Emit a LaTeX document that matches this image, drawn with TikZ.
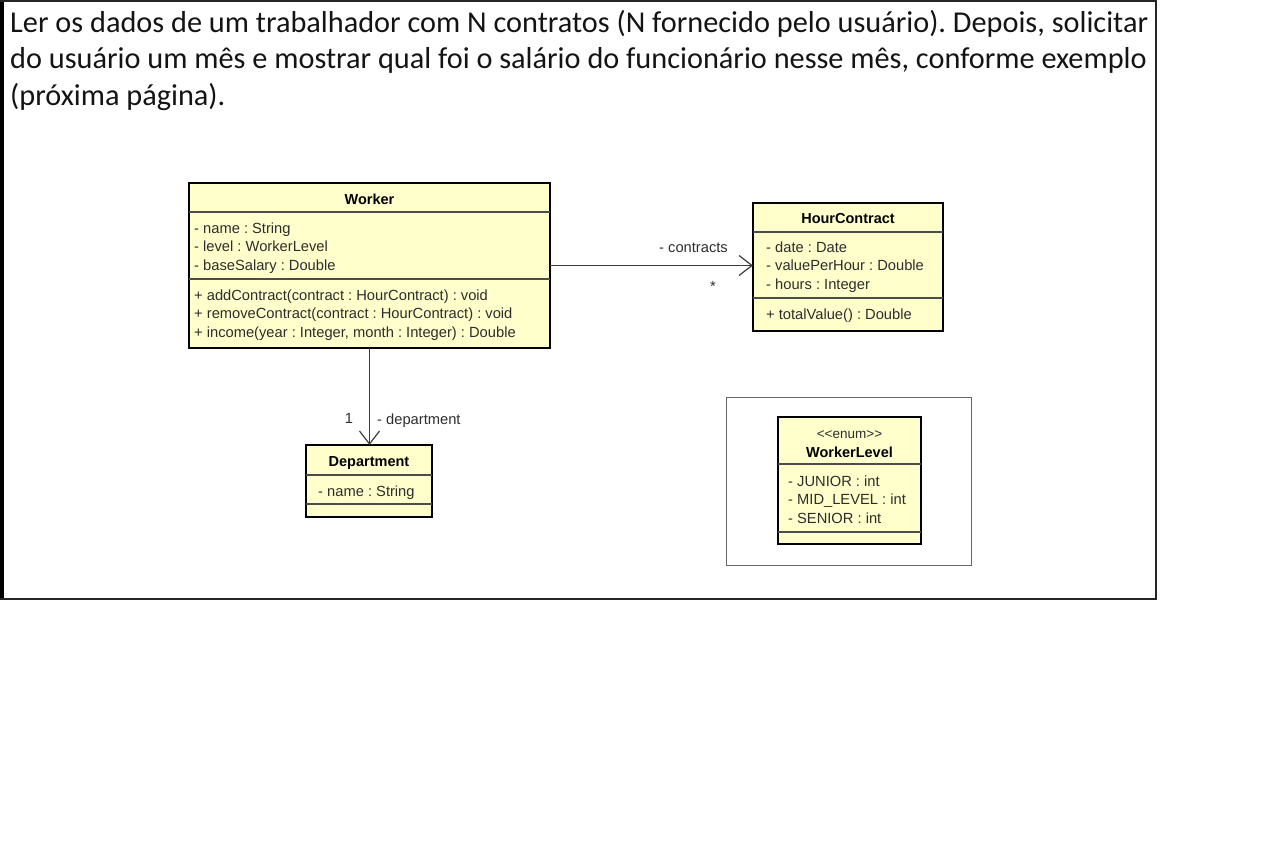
\documentclass[tikz,border=0pt]{standalone}
\usepackage{fontspec}
\setmainfont{Carlito}
\newfontfamily\umlfont{Liberation Sans}
\usetikzlibrary{arrows.meta}
\definecolor{umlfill}{RGB}{255,255,204}
\definecolor{umltext}{RGB}{45,45,45}
\definecolor{linegray}{RGB}{60,60,60}
\definecolor{desctext}{RGB}{20,20,20}
\frenchspacing
\begin{document}
\begin{tikzpicture}[x=1pt,y=-1pt,
  classbox/.style={draw=black, line width=2.7pt, fill=umlfill, inner sep=0pt, outer sep=0pt},
  divider/.style={draw=black!70, line width=1.2pt},
  member/.style={anchor=west, inner sep=0pt, font=\umlfont\fontsize{14.7}{16}\selectfont, text=umltext, text height=10, text depth=0},
  cname/.style={inner sep=0pt, font=\umlfont\bfseries\fontsize{14.5}{16}\selectfont, text=black, text height=10, text depth=0},
  stereo/.style={inner sep=0pt, font=\umlfont\fontsize{13.5}{15}\selectfont, text=umltext, text height=10, text depth=0},
  assoc/.style={draw=linegray, line width=1.2pt, -{Straight Barb[length=13pt,width=20pt,line width=1.2pt]}},
  desc/.style={anchor=base west, inner sep=0pt, font=\fontsize{30.3}{36}\selectfont, text=desctext}
]
\useasboundingbox (0,0) rectangle (1268,859);
% outer frame
\fill[black] (0,0) rectangle (4,600);
\draw[line width=2pt, black!85] (0,1) -- (1156,1) -- (1156,599) -- (0,599);

% description
\node[desc] (l1) at (10,33) {Ler os dados de um trabalhador com N contratos (N fornecido pelo usuário). Depois, solicitar};
\node[desc] (l2) at (10,69) {do usuário um mês e mostrar qual foi o salário do funcionário nesse mês, conforme exemplo};
\node[desc] (l3) at (10,105) {(próxima página).};

% Worker
\node[classbox, minimum width=361, minimum height=165] (worker) at (369.5,265.5) {};
\draw[divider] (worker.west |- 0,212) -- (worker.east |- 0,212);
\draw[divider] (worker.west |- 0,279) -- (worker.east |- 0,279);
\node[cname] (wt) at (369.5,199) {Worker};
\node[member] (w1) at (194,228) {- name : String};
\node[member] (w2) at (194,246.5) {- level : WorkerLevel};
\node[member] (w3) at (194,265) {- baseSalary : Double};
\node[member] (w4) at (194,295) {+ addContract(contract : HourContract) : void};
\node[member] (w5) at (194,313.5) {+ removeContract(contract : HourContract) : void};
\node[member] (w6) at (194,332) {+ income(year : Integer, month : Integer) : Double};

% HourContract
\node[classbox, minimum width=190, minimum height=128] (hc) at (848,267) {};
\draw[divider] (hc.west |- 0,232) -- (hc.east |- 0,232);
\draw[divider] (hc.west |- 0,298) -- (hc.east |- 0,298);
\node[cname] (hct) at (848,218) {HourContract};
\node[member] (h1) at (766,247) {- date : Date};
\node[member] (h2) at (766,265.5) {- valuePerHour : Double};
\node[member] (h3) at (766,284) {- hours : Integer};
\node[member] (h4) at (766,314) {+ totalValue() : Double};

% Department
\node[classbox, minimum width=126, minimum height=72] (dept) at (369,481) {};
\draw[divider] (dept.west |- 0,475) -- (dept.east |- 0,475);
\draw[divider] (dept.west |- 0,504) -- (dept.east |- 0,504);
\node[cname] (dt) at (369,461) {Department};
\node[member] (d1) at (318,491) {- name : String};

% WorkerLevel
\node[draw=black!60, line width=0.8pt, minimum width=245, minimum height=168, inner sep=0pt] (wlframe) at (848.5,481) {};
\node[classbox, minimum width=143, minimum height=127] (wl) at (849.5,480.5) {};
\draw[divider] (wl.west |- 0,464) -- (wl.east |- 0,464);
\draw[divider] (wl.west |- 0,532) -- (wl.east |- 0,532);
\node[stereo] (wls) at (849.5,433) {\string<\string<enum\string>\string>};
\node[cname] (wlt) at (849.5,452) {WorkerLevel};
\node[member] (e1) at (788,481) {- JUNIOR : int};
\node[member] (e2) at (788,499.5) {- MID\_LEVEL : int};
\node[member] (e3) at (788,518) {- SENIOR : int};

% associations
\draw[assoc] (worker.east) -- (worker.east -| hc.west);
\node[member, anchor=east] (rc) at (728,247) {- contracts};
\node[member, anchor=center] (mc) at (713,286) {*};
\draw[assoc] (worker.south) -- (worker.south |- dept.north);
\node[member, anchor=center] (md) at (349,418) {1};
\node[member] (rd) at (377,419) {- department};
\end{tikzpicture}
\end{document}
